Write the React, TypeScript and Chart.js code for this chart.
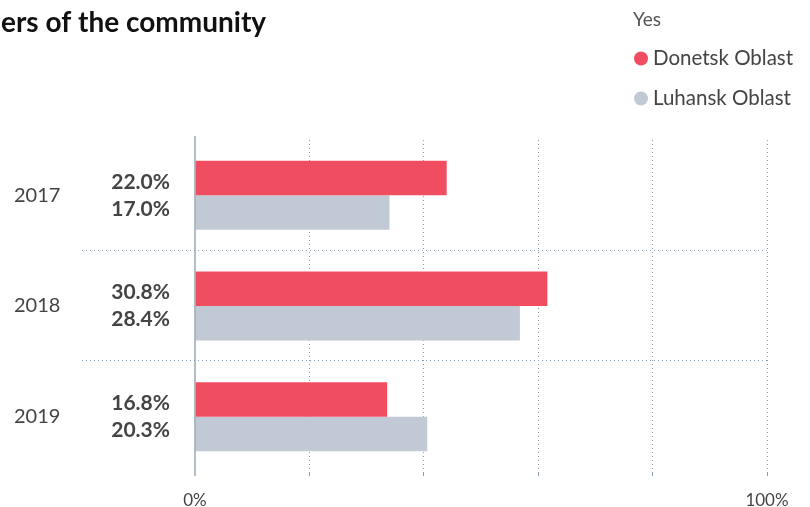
import React, { useEffect, useRef } from "react";
import { Chart, registerables } from "chart.js";

Chart.register(...registerables);

const titleText = "ers of the community";
const legendTitle = "Yes";
const years = ["2017", "2018", "2019"];
const seriesNames = ["Donetsk Oblast", "Luhansk Oblast"];
const donetsk = [22.0, 30.8, 16.8];
const luhansk = [17.0, 28.4, 20.3];
const seriesColors = ["#F04E60", "#C1CAD4"];
const xTickLabels: Record<number, string> = { 0: "0%", 50: "100%" };

const FONT = "Lato, 'Open Sans', sans-serif";

const overlayPlugin = {
  id: "overlay",
  afterDraw(chart: any) {
    const ctx = chart.ctx;
    const y = chart.scales.y;
    const area = chart.chartArea;
    ctx.save();
    // title
    ctx.fillStyle = "#111";
    ctx.font = `bold 28px ${FONT}`;
    ctx.textAlign = "left";
    ctx.textBaseline = "alphabetic";
    ctx.fillText(titleText, 1, 32);
    // legend
    ctx.fillStyle = "#555";
    ctx.font = `19px ${FONT}`;
    ctx.fillText(legendTitle, 633, 26);
    const series = [donetsk, luhansk];
    seriesNames.forEach((name, i) => {
      const cy = 58.5 + i * 40;
      ctx.beginPath();
      ctx.arc(641, cy, 7, 0, Math.PI * 2);
      ctx.fillStyle = seriesColors[i];
      ctx.fill();
      ctx.fillStyle = "#444";
      ctx.font = `20.5px ${FONT}`;
      ctx.textBaseline = "alphabetic";
      ctx.fillText(name, 653, 65 + i * 40);
    });
    // y axis line (extended like the original)
    ctx.strokeStyle = "#98A6B8";
    ctx.lineWidth = 1.5;
    ctx.beginPath();
    ctx.moveTo(area.left, area.top - 4);
    ctx.lineTo(area.left, area.bottom + 4);
    ctx.stroke();
    // separators
    ctx.strokeStyle = "#8A9AB0";
    ctx.lineWidth = 1;
    ctx.setLineDash([1, 3]);
    for (let i = 0; i < years.length - 1; i++) {
      const py = Math.round((y.getPixelForValue(i) + y.getPixelForValue(i + 1)) / 2) - 0.5;
      ctx.beginPath();
      ctx.moveTo(82, py);
      ctx.lineTo(area.right, py);
      ctx.stroke();
    }
    ctx.setLineDash([]);
    // value labels
    ctx.fillStyle = "#444";
    ctx.font = `bold 21px ${FONT}`;
    ctx.textAlign = "right";
    ctx.textBaseline = "middle";
    years.forEach((_, i) => {
      const cy = y.getPixelForValue(i);
      series.forEach((s, j) => {
        ctx.fillText(s[i].toFixed(1) + "%", 170, cy - 13.5 + j * 27);
      });
    });
    ctx.restore();
  },
};

export default function App() {
  const ref = useRef<HTMLCanvasElement>(null);
  useEffect(() => {
    if (!ref.current) return;
    const chart = new Chart(ref.current, {
      type: "bar",
      data: {
        labels: years,
        datasets: seriesNames.map((name, i) => ({
          label: name,
          data: i === 0 ? donetsk : luhansk,
          backgroundColor: seriesColors[i],
          borderWidth: 0,
          categoryPercentage: 0.623,
          barPercentage: 1,
        })),
      },
      options: {
        indexAxis: "y",
        responsive: false,
        animation: false,
        layout: { padding: { left: 14, right: 43, top: 140, bottom: 0 } },
        plugins: { legend: { display: false }, tooltip: { enabled: false } },
        scales: {
          x: {
            min: 0,
            max: 50,
            ticks: {
              stepSize: 10,
              autoSkip: false,
              maxRotation: 0,
              padding: 14,
              color: "#444",
              font: { family: FONT, size: 17 },
              callback: (v: any) => xTickLabels[v as number] ?? "",
            },
            grid: {
              drawTicks: true,
              tickLength: 4,
              color: (c: any) => (c.tick && c.tick.value === 0 ? "rgba(0,0,0,0)" : "#8A9AB0"),
            },
            border: { display: false, dash: [1, 3] },
            afterFit: (s: any) => {
              s.height = 35;
            },
          },
          y: {
            ticks: {
              crossAlign: "far",
              color: "#444",
              font: { family: FONT, size: 20 },
              padding: 0,
            },
            grid: { display: false, drawTicks: false },
            border: { display: false },
            afterFit: (s: any) => {
              s.width = 181;
            },
          },
        },
      },
      plugins: [overlayPlugin],
    });
    return () => chart.destroy();
  }, []);
  return (
    <div style={{ position: "fixed", left: 0, top: 0, width: 810, height: 507, background: "#fff" }}>
      <canvas ref={ref} width={810} height={507} style={{ display: "block" }} />
    </div>
  );
}
